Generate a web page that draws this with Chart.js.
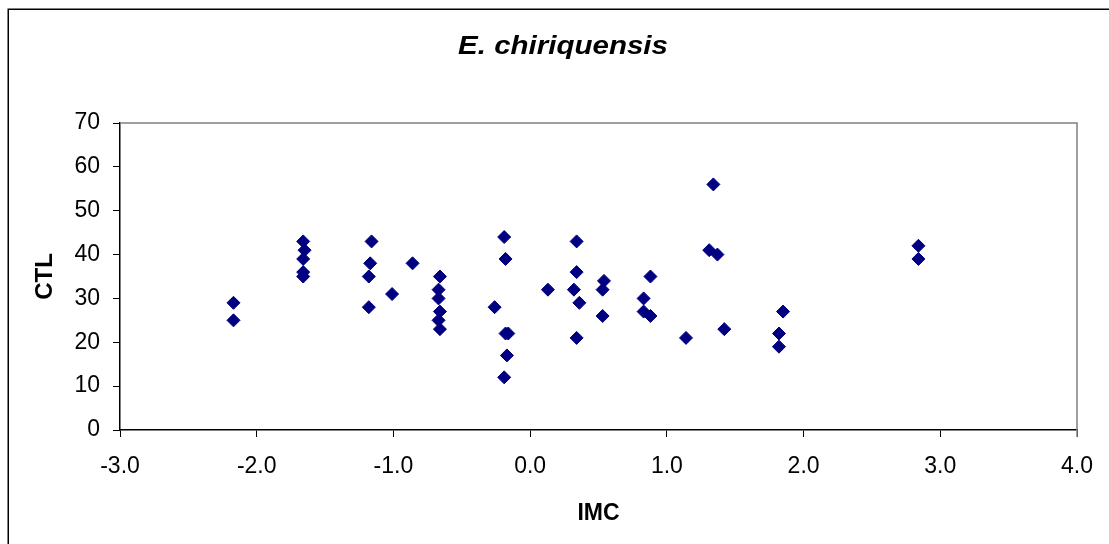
<!DOCTYPE html>
<html>
<head>
<meta charset="utf-8">
<script src="https://cdn.jsdelivr.net/npm/chart.js@4.4.1/dist/chart.umd.min.js"></script>
<style>
  html, body { margin: 0; padding: 0; background: #ffffff; }
  canvas { display: block; }
</style>
</head>
<body>
<canvas id="c" width="1109" height="544"></canvas>
<script>
// ---- data ----
const chartTitle = "E. chiriquensis";
const xAxisTitle = "IMC";
const yAxisTitle = "CTL";
const imcValues = [
  -2.17, -2.17,
  -1.66, -1.65, -1.66, -1.66, -1.66,
  -1.16, -1.17, -1.18, -1.18,
  -1.01, -0.86,
  -0.66, -0.67, -0.67, -0.66, -0.67, -0.66,
  -0.19, -0.18, -0.26, -0.18, -0.16, -0.17, -0.19,
  0.13,
  0.34, 0.34, 0.32, 0.36, 0.34,
  0.54, 0.53, 0.53,
  0.88, 0.83, 0.83, 0.88,
  1.34, 1.31, 1.37, 1.14, 1.42,
  1.85, 1.82, 1.82,
  2.84, 2.84
];
const ctlValues = [
  29, 25,
  43, 41, 39, 36, 35,
  43, 38, 35, 28,
  31, 38,
  35, 32, 30, 27, 25, 23,
  44, 39, 28, 22, 22, 17, 12,
  32,
  43, 36, 32, 29, 21,
  34, 32, 26,
  35, 30, 27, 26,
  56, 41, 40, 21, 23,
  27, 22, 19,
  42, 39
];
const xTickMin = -3, xTickMax = 4, xTickStep = 1;
const yTickMin = 0, yTickMax = 70, yTickStep = 10;

const points = imcValues.map((x, i) => ({ x: x, y: ctlValues[i] }));
const FONT = '"Liberation Sans", Arial, Helvetica, sans-serif';

const framePlugin = {
  id: 'frame',
  beforeDraw(chart) {
    const ctx = chart.ctx;
    ctx.save();
    ctx.fillStyle = '#ffffff';
    ctx.fillRect(0, 0, chart.width, chart.height);
    ctx.strokeStyle = '#000000';
    ctx.lineWidth = 1.5;
    ctx.strokeRect(8.25, 9.25, chart.width + 20, chart.height + 20);
    ctx.restore();
  },
  beforeDatasetsDraw(chart) {
    const a = chart.chartArea;
    const ctx = chart.ctx;
    ctx.save();
    ctx.strokeStyle = '#808080';
    ctx.lineWidth = 1.5;
    ctx.beginPath();
    ctx.moveTo(a.left, a.top);
    ctx.lineTo(a.right, a.top);
    ctx.lineTo(a.right, a.bottom + 7);
    ctx.stroke();
    ctx.restore();
  },
  afterDraw(chart) {
    // chart title, drawn slightly widened like the reference
    const ctx = chart.ctx;
    ctx.save();
    ctx.fillStyle = '#000000';
    ctx.font = 'italic bold 25px ' + FONT;
    ctx.textAlign = 'center';
    ctx.textBaseline = 'middle';
    ctx.translate(563, 47);
    ctx.scale(1.18, 1);
    ctx.fillText(chartTitle, 0, 0);
    ctx.restore();
  }
};

new Chart(document.getElementById('c'), {
  type: 'scatter',
  data: {
    datasets: [{
      label: 'CTL',
      data: points,
      pointStyle: 'rectRot',
      pointRadius: 6.5,
      pointHoverRadius: 6.5,
      backgroundColor: '#000080',
      borderColor: '#000080',
      borderWidth: 1
    }]
  },
  options: {
    responsive: false,
    animation: false,
    devicePixelRatio: 1,
    layout: { padding: { left: 0, right: 30, top: 123, bottom: 0 } },
    plugins: {
      legend: { display: false },
      title: { display: false, text: chartTitle },
      tooltip: { enabled: false }
    },
    scales: {
      x: {
        type: 'linear',
        min: xTickMin, max: xTickMax,
        afterFit(scale) { scale.height = 114; },
        ticks: {
          stepSize: xTickStep,
          color: '#000000',
          font: { family: FONT, size: 23 },
          padding: 16,
          maxRotation: 0,
          callback: v => Number(v).toFixed(1)
        },
        grid: { drawOnChartArea: false, drawTicks: true, tickLength: 7, color: '#000000', lineWidth: 1 },
        border: { display: true, color: '#000000', width: 1.5 },
        title: {
          display: true, text: xAxisTitle, color: '#000000',
          font: { family: FONT, size: 23, weight: 'bold' },
          padding: { top: 0, bottom: 17 }
        }
      },
      y: {
        type: 'linear',
        min: yTickMin, max: yTickMax,
        afterFit(scale) { scale.width = 120; },
        ticks: {
          stepSize: yTickStep,
          color: '#000000',
          font: { family: FONT, size: 23 },
          padding: 13
        },
        grid: { drawOnChartArea: false, drawTicks: true, tickLength: 7, color: '#000000', lineWidth: 1 },
        border: { display: true, color: '#000000', width: 1.5 },
        title: {
          display: true, text: yAxisTitle, color: '#000000',
          font: { family: FONT, size: 24, weight: 'bold' },
          padding: { top: 31, bottom: 0 }
        }
      }
    }
  },
  plugins: [framePlugin]
});
</script>
</body>
</html>
